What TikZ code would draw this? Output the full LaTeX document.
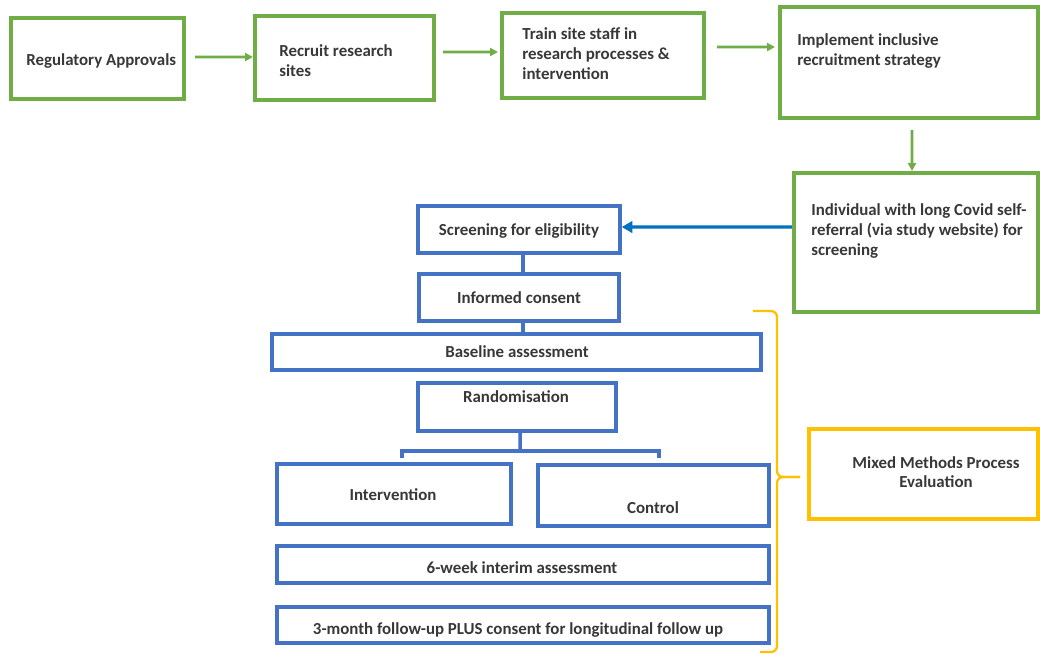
\documentclass[tikz,border=0pt]{standalone}
\usepackage{fontspec}
\setmainfont{Carlito}
\usetikzlibrary{arrows.meta,fit}
\definecolor{cgreen}{HTML}{70AD47}
\definecolor{cblue}{HTML}{4472C4}
\definecolor{carrow}{HTML}{0070C0}
\definecolor{cyellow}{HTML}{FFC000}
\definecolor{ctext}{HTML}{383838}
\begin{document}
\begin{tikzpicture}[x=0.02cm,y=-0.02cm,
  gbox/.style={draw=cgreen, line width=2.3pt, inner sep=0pt},
  bbox/.style={draw=cblue, line width=2pt, inner sep=0pt},
  ybox/.style={draw=cyellow, line width=2pt, inner sep=0pt},
  txt/.style={font=\fontsize{9.6}{11.3}\selectfont\bfseries, text=ctext, inner sep=0pt, align=left},
  ctxt/.style={txt, align=center},
  garrow/.style={draw=cgreen, line width=1.5pt, -{Triangle[length=4.5pt,width=4.5pt]}},
  barrow/.style={draw=carrow, line width=1.8pt, -{Triangle[length=6pt,width=6.5pt]}},
  bline/.style={draw=cblue, line width=2pt},
  ybrace/.style={draw=cyellow, line width=1.3pt, rounded corners=0.12cm}]
\fill[white] (0,0) rectangle (1040,654);
\useasboundingbox (0,0) rectangle (1040,654);

% green boxes
\node[gbox, fit={(11,18) (184,99)}] (reg) {};
\node[gbox, fit={(255,16) (434,100)}] (rec) {};
\node[gbox, fit={(502,13) (704,98)}] (train) {};
\node[gbox, fit={(780,7) (1038,118)}] (impl) {};
\node[gbox, fit={(794,173) (1038,312)}] (ind) {};

% texts (anchor = baseline of the last line)
\node[txt, anchor=base west] (regT) at (26,65) {Regulatory Approvals};
\node[txt, anchor=base west] (recT) at (279,76) {Recruit research\\sites};
\node[txt, anchor=base west] (trainT) at (522,79) {Train site staff in\\research processes \&\\intervention};
\node[txt, anchor=base west] (implT) at (797,65) {Implement inclusive\\recruitment strategy};
\node[txt, anchor=base west] (indT) at (811,255) {Individual with long Covid self-\\referral (via study website) for\\screening};

% blue boxes
\node[bbox, fit={(418,206) (620,253)}] (scr) {};
\node[bbox, fit={(419,274) (619,321)}] (inf) {};
\node[bbox, fit={(272,334) (761,370)}] (base) {};
\node[bbox, fit={(418,383) (616,431)}] (rand) {};
\node[bbox, fit={(277,464) (511,524)}] (intv) {};
\node[bbox, fit={(538,465) (769,526)}] (ctrl) {};
\node[bbox, fit={(277,546) (769,583)}] (six) {};
\node[bbox, fit={(277,607) (769,643)}] (three) {};

\node[ctxt, anchor=base] (scrT) at (519,235) {Screening for eligibility};
\node[ctxt, anchor=base] (infT) at (519,303) {Informed consent};
\node[ctxt, anchor=base] (baseT) at (517,357) {Baseline assessment};
\node[ctxt, anchor=base] (randT) at (516,402) {Randomisation};
\node[ctxt, anchor=base] (intvT) at (393,500) {Intervention};
\node[ctxt, anchor=base] (ctrlT) at (653,513) {Control};
\node[ctxt, anchor=base] (sixT) at (522,573) {6-week interim assessment};
\node[ctxt, anchor=base] (threeT) at (518,634) {3-month follow-up PLUS consent for longitudinal follow up};

% yellow box
\node[ybox, fit={(809,429) (1038,519)}] (mix) {};
\node[ctxt, anchor=base, font=\fontsize{9.6}{10.3}\selectfont\bfseries] (mixT) at (936,487) {Mixed Methods Process\\Evaluation};

% green arrows
\draw[garrow] ([xshift=0.18cm,yshift=0.03cm]reg.east) -- ([yshift=0.02cm]rec.west);
\draw[garrow] ([xshift=0.14cm,yshift=0.12cm]rec.east) -- ([xshift=-0.04cm,yshift=0.07cm]train.west);
\draw[garrow] ([xshift=0.22cm,yshift=0.17cm]train.east) -- ([xshift=-0.06cm,yshift=0.31cm]impl.west);
\draw[garrow] ([xshift=0.06cm,yshift=-0.2cm]impl.south) -- ([xshift=-0.08cm]ind.north);

% blue arrow
\draw[barrow] ([yshift=0.31cm]ind.west) -- ([yshift=0.05cm]scr.east);

% blue connectors
\coordinate (bar) at (520,451);
\coordinate (brL) at (402,458);
\coordinate (brR) at (659,458);
\draw[bline] ([xshift=0.08cm]scr.south) -- ([xshift=0.08cm]inf.north);
\draw[bline] ([xshift=0.08cm]inf.south) -- ([xshift=0.08cm]inf.south |- base.north);
\draw[bline] ([xshift=0.06cm]rand.south) -- (bar);
\draw[bline] (brL) -- (brL |- bar) -- (brR |- bar) -- (brR);

% brace
\draw[ybrace] (753,311) -- (777,311) -- (777,477) -- (800,477);
\draw[ybrace] (800,477) -- (777,477) -- (777,652) -- (760,652);
\end{tikzpicture}
\end{document}
